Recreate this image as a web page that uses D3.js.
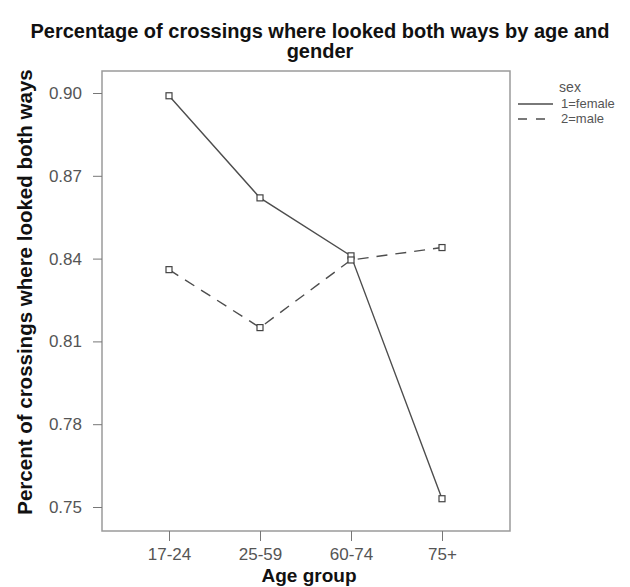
<!DOCTYPE html>
<html><head><meta charset="utf-8">
<script src="https://cdn.jsdelivr.net/npm/d3@7"></script>
<style>body{margin:0;background:#fff}svg{display:block}</style>
</head><body>
<script>
const ageGroups = ["17-24", "25-59", "60-74", "75+"];
const femaleValues = [0.899, 0.862, 0.841, 0.753];
const maleValues = [0.836, 0.815, 0.8395, 0.844];
const yTicks = [0.75, 0.78, 0.81, 0.84, 0.87, 0.90];
const seriesNames = ["1=female", "2=male"];
const titleLines = ["Percentage of crossings where looked both ways by age and", "gender"];

const W = 630, H = 587;
const svg = d3.select("body").append("svg").attr("width", W).attr("height", H);
const font = "Liberation Sans, Arial, sans-serif";

const x = d3.scalePoint().domain(ageGroups).range([169, 442]);
const y = d3.scaleLinear().domain([0.75, 0.90]).range([507, 93]);

// frame
svg.append("rect").attr("x", 102).attr("y", 71).attr("width", 408).attr("height", 460)
  .attr("fill", "none").attr("stroke", "#9a9a9a").attr("stroke-width", 1.5);

// axes
const yAxis = d3.axisLeft(y).tickValues(yTicks).tickFormat(d3.format(".2f")).tickSize(9).tickPadding(11);
const gy = svg.append("g").attr("transform", "translate(102,0)").call(yAxis);
gy.select(".domain").remove();
gy.selectAll(".tick line").attr("stroke", "#777");
gy.selectAll(".tick text").attr("font-family", font).attr("font-size", 17).attr("fill", "#555");

const xAxis = d3.axisBottom(x).tickSize(10).tickPadding(7);
const gx = svg.append("g").attr("transform", "translate(0,531)").call(xAxis);
gx.select(".domain").remove();
gx.selectAll(".tick line").attr("stroke", "#777");
gx.selectAll(".tick text").attr("font-family", font).attr("font-size", 17).attr("fill", "#555");

// lines
const series = [
  {name: seriesNames[0], values: femaleValues, dash: null},
  {name: seriesNames[1], values: maleValues, dash: "11,8"}
];
const line = d3.line().x((d, i) => x(ageGroups[i])).y(d => y(d));
series.forEach(s => {
  svg.append("path").attr("d", line(s.values)).attr("fill", "none")
    .attr("stroke", "#4d4d4d").attr("stroke-width", 1.4)
    .attr("stroke-dasharray", s.dash);
});
series.forEach(s => {
  svg.selectAll(null).data(s.values).enter().append("rect")
    .attr("x", (d, i) => x(ageGroups[i]) - 3)
    .attr("y", d => y(d) - 3)
    .attr("width", 6).attr("height", 6)
    .attr("fill", "#fff").attr("stroke", "#444").attr("stroke-width", 1.2);
});

// titles
svg.append("text").attr("x", 320).attr("y", 38).attr("text-anchor", "middle")
  .attr("font-family", font).attr("font-weight", "bold").attr("font-size", 20)
  .attr("fill", "#111").text(titleLines[0]);
svg.append("text").attr("x", 320).attr("y", 58).attr("text-anchor", "middle")
  .attr("font-family", font).attr("font-weight", "bold").attr("font-size", 20)
  .attr("fill", "#111").text(titleLines[1]);

svg.append("text").attr("transform", "translate(32,292) rotate(-90)").attr("text-anchor", "middle")
  .attr("font-family", font).attr("font-weight", "bold").attr("font-size", 20.5)
  .attr("fill", "#111").text("Percent of crossings where looked both ways");

svg.append("text").attr("x", 309).attr("y", 582).attr("text-anchor", "middle")
  .attr("font-family", font).attr("font-weight", "bold").attr("font-size", 19)
  .attr("fill", "#111").text("Age group");

// legend
const lg = svg.append("g");
lg.append("text").attr("x", 570).attr("y", 92).attr("text-anchor", "middle")
  .attr("font-family", font).attr("font-size", 14).attr("fill", "#555").text("sex");
series.forEach((s, i) => {
  const yy = 104 + i * 15;
  lg.append("line").attr("x1", 518).attr("x2", 553).attr("y1", yy).attr("y2", yy)
    .attr("stroke", "#4d4d4d").attr("stroke-width", 1.3).attr("stroke-dasharray", s.dash ? "9,9" : null);
  lg.append("text").attr("x", 561).attr("y", yy + 4).attr("font-family", font)
    .attr("font-size", 13).attr("fill", "#555").text(s.name);
});
</script>
</body></html>
